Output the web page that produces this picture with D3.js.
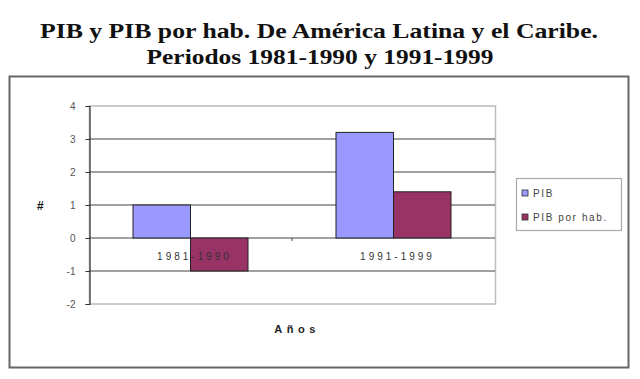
<!DOCTYPE html>
<html><head><meta charset="utf-8">
<script src="https://cdn.jsdelivr.net/npm/d3@7"></script>
<style>body{margin:0;background:#fff}svg{display:block}</style>
</head><body>
<script>
const categories = ["1981-1990", "1991-1999"];
const seriesNames = ["PIB", "PIB por hab."];
const pib = [1.0, 3.2];
const pibHab = [-1.0, 1.4];
const yTicks = [-2, -1, 0, 1, 2, 3, 4];
const colors = ["#9999FF", "#993366"];

const W = 640, H = 379;
const svg = d3.select("body").append("svg").attr("width", W).attr("height", H);

// Title
const title = svg.append("text").attr("text-anchor", "middle")
  .attr("font-family", "'Liberation Serif', 'Times New Roman', serif")
  .attr("font-weight", "bold").attr("font-size", 21).attr("fill", "#111");
title.append("tspan").attr("x", 319).attr("y", 38).attr("textLength", 558).attr("lengthAdjust", "spacingAndGlyphs")
  .text("PIB y PIB por hab. De América Latina y el Caribe.");
title.append("tspan").attr("x", 320).attr("y", 64).attr("textLength", 347).attr("lengthAdjust", "spacingAndGlyphs")
  .text("Periodos 1981-1990 y 1991-1999");

// Outer chart box
svg.append("rect").attr("x", 9.5).attr("y", 76.5).attr("width", 619).attr("height", 291)
  .attr("fill", "#fff").attr("stroke", "#666").attr("stroke-width", 2);

const y = d3.scaleLinear().domain([-2, 4]).range([304, 106]);
const x0 = d3.scaleBand().domain(categories).range([89, 495]);
const x1 = d3.scaleBand().domain(seriesNames).range([0, x0.bandwidth()]).paddingOuter(0.765);

// plot area border
svg.append("rect").attr("x", 89.5).attr("y", y(4)).attr("width", 406).attr("height", y(-2) - y(4))
  .attr("fill", "none").attr("stroke", "#bbb").attr("stroke-width", 1.5);

// gridlines
svg.append("g").selectAll("line").data(yTicks.filter(t => t > -2 && t < 4)).join("line")
  .attr("x1", 89).attr("x2", 495).attr("y1", d => y(d)).attr("y2", d => y(d))
  .attr("stroke", "#444").attr("stroke-width", 1.2);

// y axis
const yAxis = d3.axisLeft(y).tickValues(yTicks).tickSize(4).tickPadding(10).tickFormat(d => String(d));
const ga = svg.append("g").attr("transform", "translate(89.5,0)").call(yAxis);
ga.select(".domain").attr("stroke", "#333").attr("stroke-width", 1.2);
ga.selectAll(".tick line").attr("stroke", "#333");
ga.selectAll("text").attr("font-family", "Arial, 'Liberation Sans', sans-serif").attr("font-size", 10).attr("fill", "#555");

// bars
const data = categories.map((c, i) => ({ c, vals: [pib[i], pibHab[i]] }));
const groups = svg.append("g").selectAll("g").data(data).join("g")
  .attr("transform", d => `translate(${x0(d.c)},0)`);
groups.selectAll("rect").data(d => d.vals.map((v, j) => ({ v, s: seriesNames[j], j }))).join("rect")
  .attr("x", d => x1(d.s)).attr("width", x1.bandwidth())
  .attr("y", d => y(Math.max(0, d.v))).attr("height", d => Math.abs(y(d.v) - y(0)))
  .attr("fill", d => colors[d.j]).attr("stroke", "#222").attr("stroke-width", 1);

// x axis tick between categories
svg.append("line").attr("x1", x0(categories[1])).attr("x2", x0(categories[1]))
  .attr("y1", y(0)).attr("y2", y(0) + 3).attr("stroke", "#444");

// category labels
svg.append("g").selectAll("text").data(categories).join("text")
  .attr("x", d => x0(d) + x0.bandwidth() / 2 + 4).attr("y", y(0) + 22)
  .attr("text-anchor", "middle").attr("font-family", "Arial, 'Liberation Sans', sans-serif")
  .attr("font-size", 10).attr("letter-spacing", 3).attr("fill", "#333").text(d => d);

// axis titles
svg.append("text").attr("x", 297).attr("y", 333).attr("text-anchor", "middle")
  .attr("font-family", "Arial, 'Liberation Sans', sans-serif").attr("font-weight", "bold")
  .attr("font-size", 11).attr("letter-spacing", 4.5).attr("fill", "#222").text("Años");
svg.append("text").attr("x", 40).attr("y", 210).attr("text-anchor", "middle")
  .attr("font-family", "Arial, 'Liberation Sans', sans-serif").attr("font-weight", "bold")
  .attr("font-style", "italic").attr("font-size", 12).attr("fill", "#111").text("#");

// legend
const lg = svg.append("g");
lg.append("rect").attr("x", 516.5).attr("y", 178.5).attr("width", 105).attr("height", 52)
  .attr("fill", "#fff").attr("stroke", "#aaa").attr("stroke-width", 1.2);
const items = lg.selectAll("g").data(seriesNames).join("g")
  .attr("transform", (d, i) => `translate(522,${193 + i * 24})`);
items.append("rect").attr("x", 0).attr("y", -3).attr("width", 6).attr("height", 6)
  .attr("fill", (d, i) => colors[i]).attr("stroke", "#333").attr("stroke-width", 0.8);
items.append("text").attr("x", 11).attr("y", 4)
  .attr("font-family", "Arial, 'Liberation Sans', sans-serif").attr("font-size", 10)
  .attr("letter-spacing", 1.6).attr("fill", "#444").text(d => d);
</script>
</body></html>
